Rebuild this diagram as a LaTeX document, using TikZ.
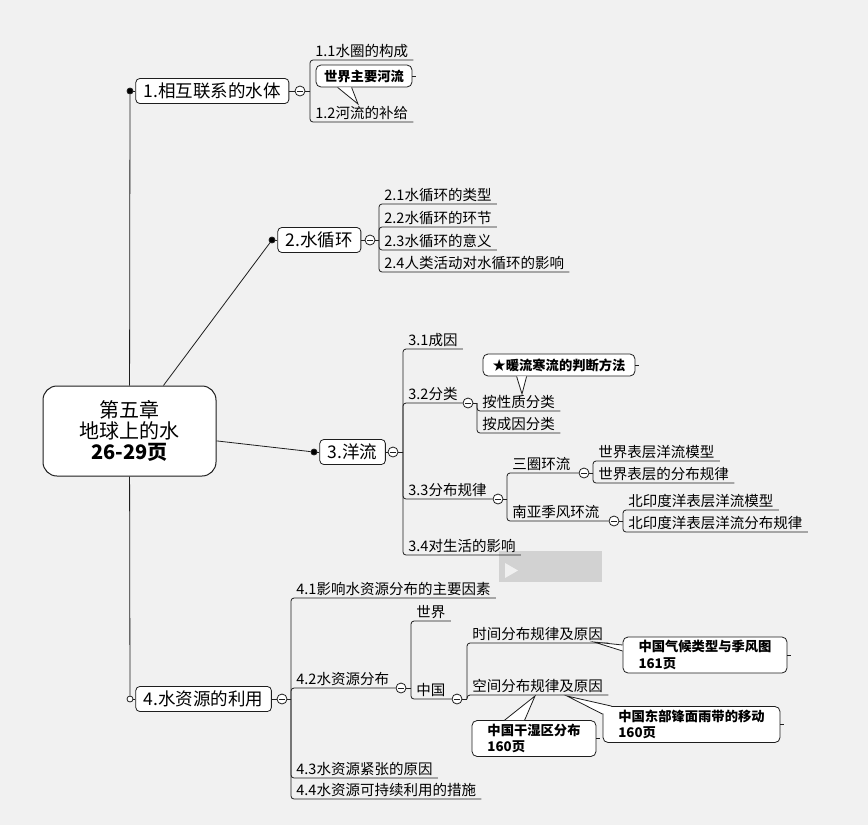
\documentclass[tikz,border=0pt]{standalone}
\usepackage{fontspec}
\setmainfont{Noto Sans CJK SC}
\usetikzlibrary{positioning}
\definecolor{paper}{HTML}{F1F1F1}
\definecolor{ink}{HTML}{1E1E1E}

\begin{document}
\begin{tikzpicture}[x=1pt, y=-1pt, line width=0.8pt, draw=ink]
    \tikzstyle{root} = [rectangle, draw, fill=white, line width=1pt, rounded corners=14pt, minimum width=173pt, minimum height=90pt, align=center, font=\fontsize{20}{21}\selectfont]
    \tikzstyle{topic} = [rectangle, draw, fill=white, rounded corners=4pt, minimum height=25pt, inner xsep=8pt, font=\fontsize{17.5}{18}\selectfont]
    \tikzstyle{leaf} = [anchor=south west, inner xsep=5pt, inner ysep=1.5pt, text height=11pt, text depth=2pt, font=\fontsize{14.5}{15}\selectfont]
    \tikzstyle{note} = [rectangle, draw, fill=white, rounded corners=5pt, inner xsep=7pt, align=left, font=\fontsize{13.3}{16.5}\selectfont\bfseries]
    \tikzstyle{dot} = [circle, draw, fill=black, inner sep=0pt, minimum size=6pt]
    \tikzstyle{ring} = [circle, draw, fill=white, inner sep=0pt, minimum size=6pt]
    \tikzstyle{fold} = [circle, draw, fill=white, inner sep=0pt, minimum size=10pt,
        path picture={\draw[line width=0.7pt] ([xshift=2pt]path picture bounding box.west) -- ([xshift=-2pt]path picture bounding box.east);}]
    \tikzstyle{line} = [draw]
    \tikzstyle{bracket} = [draw, rounded corners=3pt]
    \tikzstyle{pointer} = [draw, fill=white]

    \fill[paper] (0,0) rectangle (868,825);
    \useasboundingbox (0,0) rectangle (868,825);
    % play overlay
    \fill[gray!35] (499,551) rectangle (602,582);
    \fill[gray!12] (505,563) -- (505,578) -- (518,570.5) -- cycle;

    \node [root] (root) at (129.5,431) {第五章\\地球上的水\\\textbf{26-29页}};

    % 1
    \node [dot] (d1) at (130,91) {};
    \node [topic, right=2pt of d1] (n1) {1.相互联系的水体};
    \node [fold] (f1) at (300,91) {};
    \coordinate (j1) at (310,91);
    \node [leaf] (l11) at (310,60) {1.1水圈的构成};
    \node [leaf] (l12) at (310,122) {1.2河流的补给};
    \node [note, minimum width=96pt, minimum height=22pt] (m1) at (364,76) {世界主要河流};
    \coordinate (m1tip) at (358,104);

    \path [line] (root) -- (d1);
    \path [line] (d1) -- (n1);
    \path [line] (n1) -- (f1);
    \path [line] (f1) -- (j1);
    \path [bracket] (j1) |- (l11.south east);
    \path [bracket] (j1) |- (l12.south east);
    \path [pointer] ([xshift=22pt]m1.south west) -- (m1tip) -- ([xshift=36pt]m1.south west);
    \path [line] (m1.east) -- ++(4,0);

    % 2
    \node [dot] (d2) at (272,240) {};
    \node [topic, right=2pt of d2] (n2) {2.水循环};
    \node [fold] (f2) at (370,240) {};
    \coordinate (j2) at (379,240);
    \node [leaf] (l21) at (379,204) {2.1水循环的类型};
    \node [leaf] (l22) at (379,227) {2.2水循环的环节};
    \node [leaf] (l23) at (379,250) {2.3水循环的意义};
    \node [leaf] (l24) at (379,272) {2.4人类活动对水循环的影响};

    \path [line] (root) -- (d2);
    \path [line] (d2) -- (n2);
    \path [line] (n2) -- (f2);
    \path [line] (f2) -- (j2);
    \foreach \k in {l21,l22,l23,l24}
        \path [bracket] (j2) |- (\k.south east);

    % 3
    \node [dot] (d3) at (314,452) {};
    \node [topic, right=2pt of d3] (n3) {3.洋流};
    \node [fold] (f3) at (393,452) {};
    \coordinate (j3) at (403,452);
    \node [leaf] (l31) at (403,349) {3.1成因};
    \node [leaf] (l32) at (403,403) {3.2分类};
    \node [fold] (f32) at (468,403) {};
    \coordinate (j32) at (477,403);
    \node [leaf] (l321) at (477,411) {按性质分类};
    \node [leaf] (l322) at (477,433) {按成因分类};
    \node [note, minimum width=152pt, minimum height=22pt] (m2) at (559,365) {★暖流寒流的判断方法};
    \coordinate (m2tip) at (522,394);
    \node [leaf] (l33) at (403,499) {3.3分布规律};
    \node [fold] (f33) at (498,499) {};
    \coordinate (j33) at (507,499);
    \node [leaf] (l331) at (507,473) {三圈环流};
    \node [fold] (f331) at (584,473) {};
    \coordinate (j331) at (593,473);
    \node [leaf] (l3311) at (593,461) {世界表层洋流模型};
    \node [leaf] (l3312) at (593,483) {世界表层的分布规律};
    \node [leaf] (l332) at (507,521) {南亚季风环流};
    \node [fold] (f332) at (614,521) {};
    \coordinate (j332) at (623,521);
    \node [leaf] (l3321) at (623,510) {北印度洋表层洋流模型};
    \node [leaf] (l3322) at (623,532) {北印度洋表层洋流分布规律};
    \node [leaf] (l34) at (403,555) {3.4对生活的影响};

    \path [line] (root) -- (d3);
    \path [line] (d3) -- (n3);
    \path [line] (n3) -- (f3);
    \path [line] (f3) -- (j3);
    \path [bracket] (j3) |- (l31.south east);
    \path [bracket] (j3) |- (f32.west);
    \path [bracket] (j3) |- (f33.west);
    \path [bracket] (j3) |- (l34.south east);
    \path [line] (f32) -- (j32);
    \path [bracket] (j32) |- (l321.south east);
    \path [bracket] (j32) |- (l322.south east);
    \path [pointer] ([xshift=34pt]m2.south west) -- (m2tip) -- ([xshift=44pt]m2.south west);
    \path [line] (m2.east) -- ++(4,0);
    \path [line] (f33) -- (j33);
    \path [bracket] (j33) |- (f331.west);
    \path [bracket] (j33) |- (f332.west);
    \path [line] (f331) -- (j331);
    \path [bracket] (j331) |- (l3311.south east);
    \path [bracket] (j331) |- (l3312.south east);
    \path [line] (f332) -- (j332);
    \path [bracket] (j332) |- (l3321.south east);
    \path [bracket] (j332) |- (l3322.south east);

    % 4
    \node [ring] (d4) at (130,699) {};
    \node [topic, right=2pt of d4] (n4) {4.水资源的利用};
    \node [fold] (f4) at (282,699) {};
    \coordinate (j4) at (291,699);
    \node [leaf] (l41) at (291,598) {4.1影响水资源分布的主要因素};
    \node [leaf] (l42) at (291,688) {4.2水资源分布};
    \node [fold] (f42) at (401,688) {};
    \coordinate (j42) at (411,688);
    \node [leaf] (l421) at (411,621) {世界};
    \node [leaf] (l422) at (411,699) {中国};
    \node [fold] (f422) at (457,699) {};
    \coordinate (j422) at (467,699);
    \node [leaf] (l4221) at (467,643) {时间分布规律及原因};
    \node [leaf] (l4222) at (467,695) {空间分布规律及原因};
    \node [leaf] (l43) at (291,778) {4.3水资源紧张的原因};
    \node [leaf] (l44) at (291,799) {4.4水资源可持续利用的措施};
    \node [note, minimum width=164pt, minimum height=36pt] (m3) at (705,655) {中国气候类型与季风图\\161页};
    \coordinate (m3tip) at (594,642);
    \node [note, minimum width=124pt, minimum height=35pt] (m4) at (534,738.5) {中国干湿区分布\\160页};
    \coordinate (m4tip) at (535,696);
    \node [note, minimum width=177pt, minimum height=35pt] (m5) at (691.5,724.5) {中国东部锋面雨带的移动\\160页};
    \coordinate (m5tip) at (567,696);

    \path [line] (root) -- (d4);
    \path [line] (d4) -- (n4);
    \path [line] (n4) -- (f4);
    \path [line] (f4) -- (j4);
    \path [bracket] (j4) |- (l41.south east);
    \path [bracket] (j4) |- (f42.west);
    \path [bracket] (j4) |- (l43.south east);
    \path [bracket] (j4) |- (l44.south east);
    \path [line] (f42) -- (j42);
    \path [bracket] (j42) |- (l421.south east);
    \path [bracket] (j42) |- (f422.west);
    \path [line] (f422) -- (j422);
    \path [bracket] (j422) |- (l4221.south east);
    \path [bracket] (j422) |- (l4222.south east);
    \path [pointer] ([yshift=10pt]m3.west) -- (m3tip) -- ([yshift=4pt]m3.west);
    \path [line] (m3.east) -- ++(4,0);
    \path [pointer] ([xshift=33pt]m4.north west) -- (m4tip) -- ([xshift=53pt]m4.north west);
    \path [line] (m4.east) -- ++(4,0);
    \path [pointer] ([xshift=9pt]m5.north west) -- (m5tip) -- ([yshift=-8pt]m5.north west);
    \path [line] (m5.east) -- ++(4,0);
\end{tikzpicture}
\end{document}
